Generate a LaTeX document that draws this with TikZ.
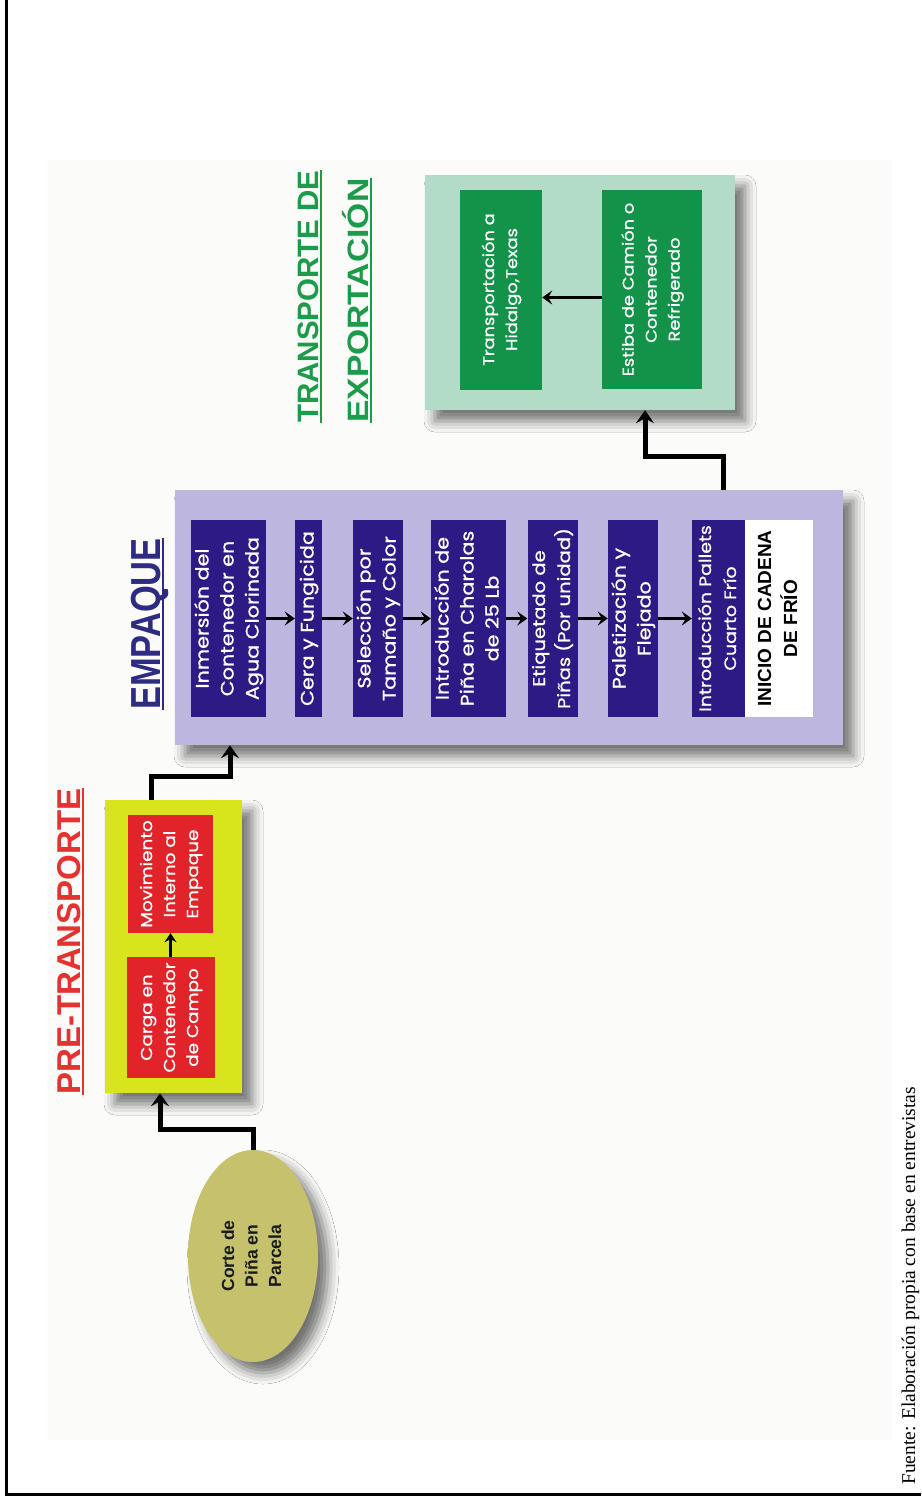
\documentclass[tikz,border=0pt]{standalone}
\usepackage{graphicx}
\usepackage{fontspec}
\setmainfont{Liberation Serif}
\newfontfamily\boxfont{Poppins}[FakeStretch=1.15,FakeBold=0.8]
\newfontfamily\headfont{Liberation Sans}
\usetikzlibrary{arrows.meta,shadows.blur,shapes.geometric}
\definecolor{empC}{HTML}{BDB7DF}
\definecolor{indC}{HTML}{2D1A84}
\definecolor{mintC}{HTML}{B2DCC8}
\definecolor{dgrnC}{HTML}{13934A}
\definecolor{yelC}{HTML}{D8E41C}
\definecolor{redC}{HTML}{E1232A}
\definecolor{ellC}{HTML}{C5C16C}
\definecolor{preC}{HTML}{E3322F}
\definecolor{empTC}{HTML}{2E2B82}
\definecolor{grnTC}{HTML}{1C9C4A}
\definecolor{bgC}{HTML}{FBFBF9}
\newcommand{\rtx}[1]{\rotatebox{90}{\begin{tabular}{@{}c@{}}#1\end{tabular}}}
\begin{document}
\begin{tikzpicture}[x=1pt,y=-1pt,
  shd/.style={blur shadow={shadow xshift=10pt,shadow yshift=-11pt,shadow blur radius=11pt,shadow opacity=55}},
  panel/.style={draw=none,inner sep=0pt,shd},
  tbox/.style={draw=none,inner sep=0pt,text=white,font=\boxfont\fontsize{18}{25}\selectfont},
  conn/.style={line width=5pt,-{Stealth[length=13pt,width=18pt,inset=5pt]}},
  iarr/.style={line width=3.5pt,-{Stealth[length=10pt,width=14pt,inset=4pt]}},
  rarr/.style={line width=3pt,-{Stealth[length=9pt,width=12pt,inset=3pt]}},
  ttl/.style={rotate=90,anchor=base west,inner sep=0pt,font=\headfont\bfseries}
]
\useasboundingbox (0,0) rectangle (921,1510);
\fill[white] (0,0) rectangle (921,1510);
\fill[bgC] (47,160) rectangle (892,1440);
\draw[line width=3pt] (6,0) -- (6,1494) -- (921,1494);

% panels
\node[panel, fill=empC, minimum width=668pt, minimum height=255pt] (emp) at (509,617.5) {};
\node[panel, fill=mintC, minimum width=310pt, minimum height=235pt] (grn) at (580,292.5) {};
\node[panel, fill=yelC, minimum width=137pt, minimum height=293pt] (yel) at (173.5,946.5) {};
\node[ellipse, fill=ellC, shd, minimum width=130pt, minimum height=212pt, inner sep=0pt, text=black!90,
  font=\headfont\bfseries\fontsize{17.5}{23.5}\selectfont] (ell) at (253,1256) {\rtx{Corte de\\Piña en\\Parcela}};

% empaque steps
\node[tbox, fill=indC, minimum width=73pt, minimum height=197pt] (b1) at (228.5,618.5) {\rtx{Inmersión del\\Contenedor en\\Agua Clorinada}};
\node[tbox, fill=indC, minimum width=27pt, minimum height=197pt] (b2) at (308.5,618.5) {\rtx{Cera y Fungicida}};
\node[tbox, fill=indC, minimum width=50pt, minimum height=197pt] (b3) at (378,618.5) {\rtx{Selección por\\Tamaño y Color}};
\node[tbox, fill=indC, minimum width=71pt, minimum height=197pt] (b4) at (468.5,618.5) {\rtx{Introducción de\\Piña en Charolas\\de 25 Lb}};
\node[tbox, fill=indC, font=\boxfont\fontsize{17}{25}\selectfont, minimum width=49pt, minimum height=197pt] (b5) at (552.5,618.5) {\rtx{Etiquetado de\\Piñas (Por unidad)}};
\node[tbox, fill=indC, minimum width=50pt, minimum height=197pt] (b6) at (633,618.5) {\rtx{Paletización y\\Flejado}};
\node[tbox, fill=indC, font=\boxfont\fontsize{16.5}{25}\selectfont, minimum width=53pt, minimum height=197pt] (b7) at (718.5,618.5) {\rtx{Introducción Pallets\\Cuarto Frío}};
\node[tbox, fill=white, text=black, font=\headfont\bfseries\fontsize{19}{26}\selectfont,
  minimum width=68pt, minimum height=197pt] (bw) at (779,618.5) {\rtx{INICIO DE CADENA\\DE FRÍO}};

% transporte steps
\node[tbox, fill=dgrnC, font=\boxfont\fontsize{15.5}{23}\selectfont, minimum width=82pt, minimum height=200pt] (t1) at (501,289.5) {\rtx{Transportación a\\Hidalgo,Texas}};
\node[tbox, fill=dgrnC, font=\boxfont\fontsize{15.5}{23}\selectfont, minimum width=100pt, minimum height=199pt] (t2) at (652,289.5) {\rtx{Estiba de Camión o\\Contenedor\\Refrigerado}};

% pre-transporte steps
\node[tbox, fill=redC, font=\boxfont\fontsize{16}{23}\selectfont, minimum width=85pt, minimum height=118pt] (r2) at (170.5,874) {\rtx{Movimiento\\Interno al\\Empaque}};
\node[tbox, fill=redC, font=\boxfont\fontsize{16}{23}\selectfont, minimum width=88pt, minimum height=121pt] (r1) at (170.5,1017.5) {\rtx{Carga en\\Contenedor\\de Campo}};

% inner arrows
\foreach \a/\b in {b1/b2,b2/b3,b3/b4,b4/b5,b5/b6,b6/b7}
  \draw[iarr] (\a.east) -- (\b.west);
\draw[iarr] ([yshift=-8pt]t2.west) -- ([yshift=-8pt]t1.east);
\draw[rarr] (r1.north) -- (r2.south);

% connectors
\draw[conn] (ell.north) -- ++(0,-20) -| ([xshift=-13.5pt]yel.south);
\draw[conn] ([xshift=-22.5pt]yel.north) -- ++(0,-23) -| ([xshift=-279pt]emp.south);
\draw[conn] ([xshift=214pt]emp.north) -- ++(0,-33) -| ([xshift=65pt]grn.south);

% titles
\node[ttl, text=preC, font=\headfont\bfseries\fontsize{33}{33}\selectfont] (tP) at (80,1095) {PRE-TRANSPORTE};
\draw[preC, line width=2pt] ([xshift=3pt]tP.base west) -- ([xshift=3pt]tP.base east);
\node[ttl, text=empTC, font=\headfont\bfseries\fontsize{42}{42}\selectfont] (tE) at (160,710) {\scalebox{0.82}[1]{EMPAQUE}};
\draw[empTC, line width=2pt] ([xshift=3pt]tE.base west) -- ([xshift=3pt]tE.base east);
\node[ttl, text=grnTC, font=\headfont\bfseries\fontsize{29.5}{29.5}\selectfont] (tT1) at (318,423) {TRANSPORTE DE};
\draw[grnTC, line width=2pt] ([xshift=3pt]tT1.base west) -- ([xshift=3pt]tT1.base east);
\node[ttl, text=grnTC, font=\headfont\bfseries\fontsize{29.5}{29.5}\selectfont] (tT2) at (368,423) {\scalebox{1.14}[1]{EXPORTACIÓN}};
\draw[grnTC, line width=2pt] ([xshift=3pt]tT2.base west) -- ([xshift=3pt]tT2.base east);

% source
\node[rotate=90, anchor=base west, inner sep=0pt, font=\fontsize{19.5}{19.5}\selectfont] (src) at (915,1485) {Fuente: Elaboración propia con base en entrevistas};
\end{tikzpicture}
\end{document}
